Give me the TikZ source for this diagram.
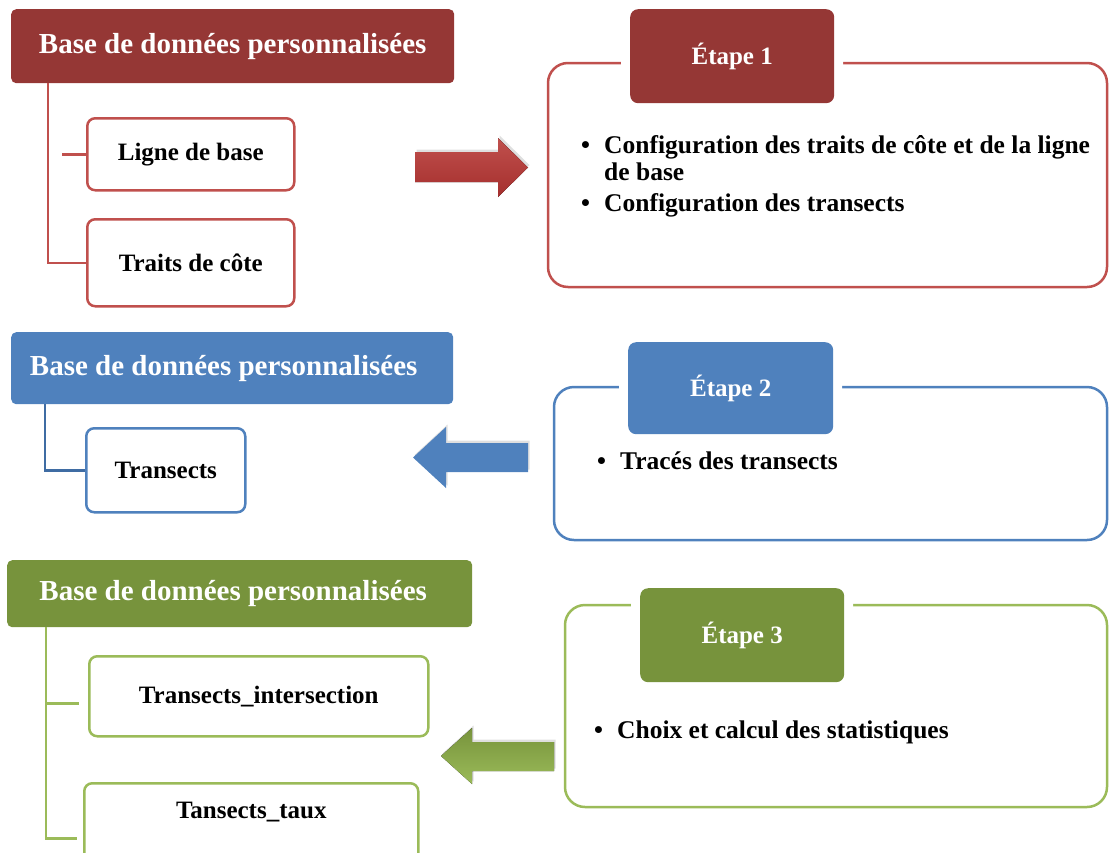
\documentclass[tikz,border=0pt]{standalone}
\usepackage{fontspec}
\setmainfont{Liberation Serif}
\usetikzlibrary{shadows}
\definecolor{redc}{HTML}{953735}
\definecolor{redlinec}{HTML}{C0504D}
\definecolor{bluec}{HTML}{4F81BD}
\definecolor{bluelinec}{HTML}{3F6CA3}
\definecolor{greenc}{HTML}{77933C}
\definecolor{greenlinec}{HTML}{9BBB59}
\tikzset{
  dbhead/.style={fill=#1, text=white, rounded corners=5, anchor=north west, inner sep=0, font=\fontsize{29}{33}\selectfont\bfseries},
  dbitem/.style={draw=#1, fill=white, line width=2.5, rounded corners=8, anchor=north west, inner sep=0, font=\fontsize{25}{29}\selectfont\bfseries},
  stage/.style={fill=#1, text=white, rounded corners=8, preaction={draw=white, line width=18}, anchor=north west, inner sep=0, minimum width=204, minimum height=94, font=\fontsize{25}{29}\selectfont\bfseries},
  frame/.style={draw=#1, line width=2.5, rounded corners=20},
  bullets/.style={anchor=north west, align=left, inner sep=0, font=\fontsize{25.5}{27}\selectfont\bfseries},
  link/.style={draw=#1, line width=2.5},
  blockarrow/.style={drop shadow={opacity=0.25, shadow xshift=1.5, shadow yshift=-2.5}},
}
\newcommand{\puce}{\makebox[23pt][l]{\textbullet}}

\begin{document}
\begin{tikzpicture}[x=1pt, y=-1pt]
\useasboundingbox (0,0) rectangle (1109,852);
\node[dbhead=redc, minimum width=443, minimum height=74] (db1) at (11,9) {Base de données personnalisées};
\node[dbitem=redlinec, minimum width=207, minimum height=72] (ligne) at (86,117) {Ligne de base};
\node[dbitem=redlinec, minimum width=207, minimum height=87] (traits) at (86,218) {Traits de côte};
\coordinate (r0) at (48,83);
\draw[link=redlinec] (r0) |- (traits);
\draw[link=redlinec, shorten <=14] (r0 |- ligne) -- (ligne);
\fill[blockarrow, top color=redlinec, bottom color=redc!85!red] (415,152) -- (498,152) -- (498,138) -- (528,167.5) -- (498,197) -- (498,182) -- (415,182) -- cycle;
\draw[frame=redlinec] (548,63) rectangle (1107,287);
\node[stage=redc] (et1) at (630,9) {Étape 1};
\node[bullets] (b1) at (581,135) {\puce Configuration des traits de côte et de la ligne\\\hspace*{23pt}de base\\[4pt]\puce Configuration des transects};

\node[dbhead=bluec, minimum width=442, minimum height=72] (db2) at (11,332) {\hspace*{-17pt}Base de données personnalisées};
\node[dbitem=bluec, minimum width=159, minimum height=84] (trans) at (85,427) {Transects};
\coordinate (b0) at (45,404);
\draw[link=bluelinec] (b0) |- (trans);
\fill[blockarrow, bluec] (528,443) -- (446,443) -- (446,427) -- (413,457.5) -- (446,488) -- (446,472) -- (528,472) -- cycle;
\draw[frame=bluec, fill=white] (554,387) rectangle (1107,540);
\node[stage=bluec, minimum width=205, minimum height=92] (et2) at (628,342) {Étape 2};
\node[bullets] (b2) at (597,452) {\puce Tracés des transects};

\node[dbhead=greenc, minimum width=465, minimum height=67] (db3) at (7,560) {\hspace*{-13pt}Base de données personnalisées};
\node[dbitem=greenlinec, minimum width=339, minimum height=80] (inter) at (88,655) {Transects\_intersection};
\node[dbitem=greenlinec, minimum width=334, inner ysep=18, text height=17, text depth=37] (taux) at (83,782) {Tansects\_taux};
\coordinate (g0) at (46,627);
\coordinate (gi) at ([yshift=-7]inter.west);
\coordinate (gt) at ([yshift=-10]taux.west);
\draw[link=greenlinec, shorten >=6] (g0) |- (gt);
\draw[link=greenlinec, shorten >=9] (g0 |- gi) -- (gi);
\fill[blockarrow, top color=greenc, bottom color=greenlinec] (554,742) -- (472,742) -- (472,728) -- (441,756) -- (472,784) -- (472,771) -- (554,771) -- cycle;
\draw[frame=greenlinec] (565,605) rectangle (1107,807);
\node[stage=greenc] (et3) at (640,588) {Étape 3};
\node[bullets] (b3) at (594,721) {\puce Choix et calcul des statistiques};
\end{tikzpicture}
\end{document}
